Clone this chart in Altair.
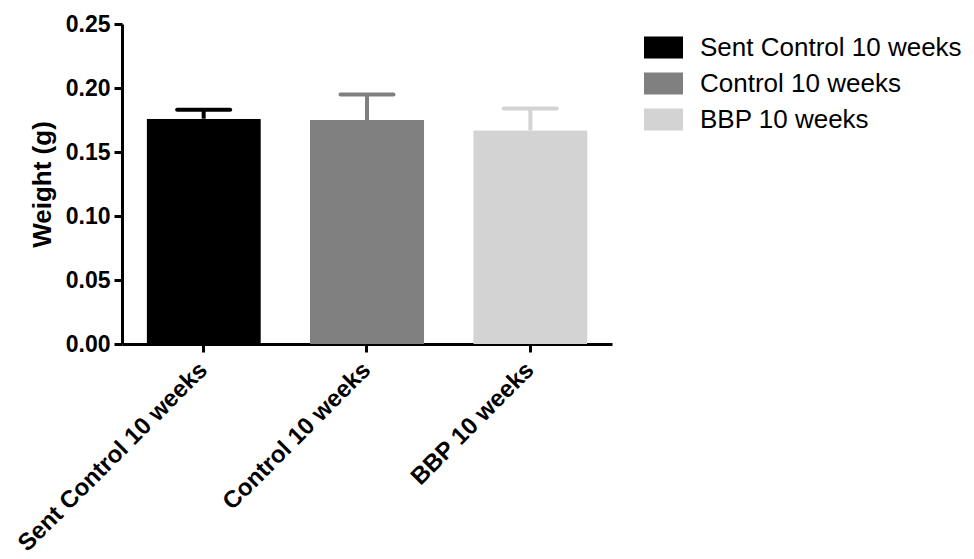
import altair as alt
import pandas as pd

# Body weight at 10 weeks, mean and SEM per group
groups = ["Sent Control 10 weeks", "Control 10 weeks", "BBP 10 weeks"]
mean_weight = [0.176, 0.175, 0.167]
sem_weight = [0.007, 0.020, 0.017]
bar_colors = ["#000000", "#808080", "#d3d3d3"]
y_ticks = [0.0, 0.05, 0.10, 0.15, 0.20, 0.25]

df = pd.DataFrame({
    "group": groups,
    "mean": mean_weight,
    "upper": [m + s for m, s in zip(mean_weight, sem_weight)],
})

FONT = "Liberation Sans"

color_scale = alt.Scale(domain=groups, range=bar_colors)
y_scale = alt.Scale(domain=[0, 0.25], nice=False, zero=True)

x_enc = alt.X(
    "group:N",
    sort=groups,
    scale=alt.Scale(paddingInner=0.3, paddingOuter=0.15),
    axis=alt.Axis(
        title=None,
        labelAngle=-45,
        labelAlign="right",
        labelBaseline="middle",
        labelFont=FONT,
        labelFontWeight="bold",
        labelFontSize=24,
        labelColor="black",
        labelPadding=14,
        labelLimit=400,
        domainColor="black",
        domainWidth=3,
        tickColor="black",
        tickWidth=3,
        tickSize=8,
        grid=False,
    ),
)

bars = alt.Chart(df).mark_bar(cornerRadius=1, opacity=1).encode(
    x=x_enc,
    y=alt.Y(
        "mean:Q",
        scale=y_scale,
        axis=alt.Axis(
            title="Weight (g)",
            values=y_ticks,
            format=".2f",
            grid=False,
            labelFont=FONT,
            labelFontWeight="bold",
            labelFontSize=23,
            labelColor="black",
            labelPadding=4,
            titleFont=FONT,
            titleFontWeight="bold",
            titleFontSize=26,
            titleColor="black",
            titlePadding=10,
            domainColor="black",
            domainWidth=3,
            tickColor="black",
            tickWidth=3,
            tickSize=8,
        ),
    ),
    color=alt.Color(
        "group:N",
        sort=groups,
        scale=color_scale,
        legend=alt.Legend(
            title=None,
            orient="none",
            legendX=522,
            legendY=4,
            padding=0,
            symbolType="M-1,-0.564L1,-0.564L1,0.564L-1,0.564Z",
            symbolSize=1521,
            symbolStrokeWidth=0,
            symbolOpacity=1,
            labelFont=FONT,
            labelFontSize=26,
            labelColor="black",
            labelOffset=17,
            labelLimit=400,
            rowPadding=3,
        ),
    ),
)

# SEM stem above each bar
stems = alt.Chart(df).mark_rule(strokeWidth=4, opacity=1).encode(
    x=alt.X("group:N", sort=groups),
    y=alt.Y("mean:Q", scale=y_scale),
    y2="upper:Q",
    color=alt.Color("group:N", sort=groups, scale=color_scale),
)

# SEM cap
caps = alt.Chart(df).mark_tick(size=57, thickness=4, cornerRadius=2, opacity=1).encode(
    x=alt.X("group:N", sort=groups),
    y=alt.Y("upper:Q", scale=y_scale),
    color=alt.Color("group:N", sort=groups, scale=color_scale),
)

chart = (
    alt.layer(bars, stems, caps)
    .properties(
        width=490,
        height=320,
        autosize=alt.AutoSizeParams(type="none"),
        padding={"left": 122, "top": 24, "right": 362, "bottom": 215},
    )
    .configure(background="white")
    .configure_view(stroke="#ffffff", strokeOpacity=0)
)

chart.save("out.html", embed_options={"renderer": "svg", "actions": False})
